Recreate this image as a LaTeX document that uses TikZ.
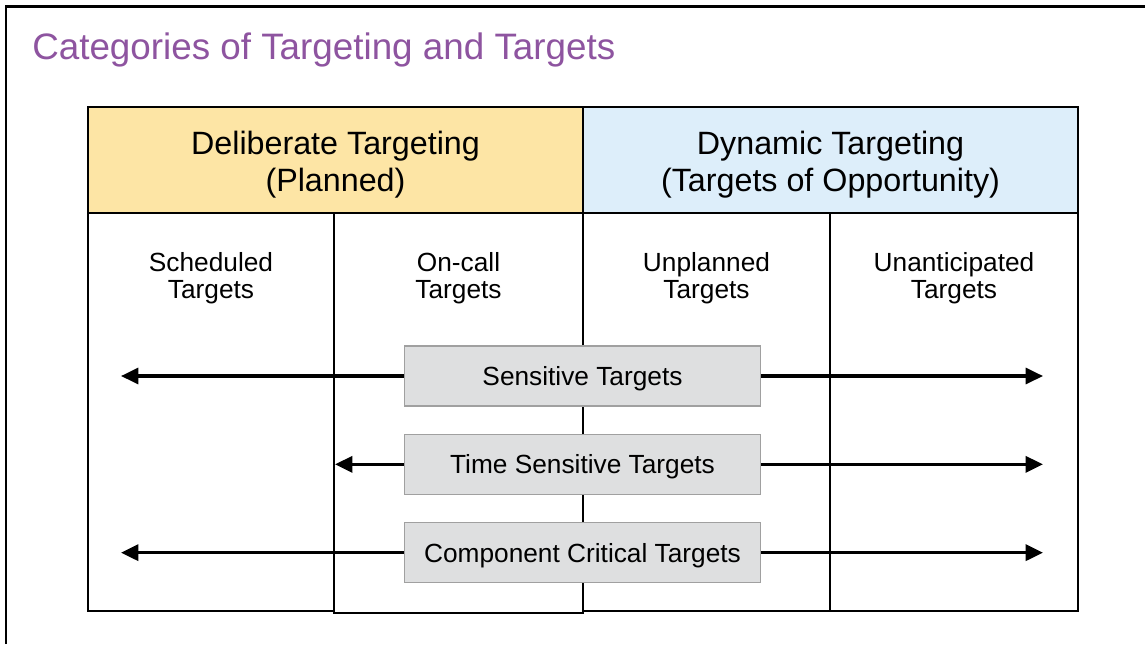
\documentclass[tikz,border=0pt]{standalone}
\usepackage{fontspec}
\setmainfont{Liberation Sans}
\usetikzlibrary{arrows.meta,positioning}
\definecolor{titlepurple}{RGB}{142,84,160}
\definecolor{planyellow}{RGB}{253,229,165}
\definecolor{dynblue}{RGB}{221,238,250}
\definecolor{boxgray}{RGB}{222,223,224}
\definecolor{boxedge}{RGB}{160,160,160}

\begin{document}
\begin{tikzpicture}[
    x=0.75pt, y=-0.75pt,
    hdr/.style={
        align=center, inner sep=0pt,
        font=\fontsize{24.2}{27.75}\selectfont
    },
    collabel/.style={
        align=center, inner sep=0pt,
        font=\fontsize{19.7}{20.25}\selectfont
    },
    colbox/.style={draw, line width=0.9pt},
    tbox/.style={
        draw=boxedge, fill=boxgray, line width=1pt,
        minimum width=267pt, minimum height=45pt,
        text height=14pt, text depth=0pt,
        font=\fontsize{19.7}{20.25}\selectfont
    },
    arr/.style={-{Triangle[length=13pt,width=12pt]}, line width=2.4pt}
]
\useasboundingbox (0,0) rectangle (1145,644);
\fill[white] (0,0) rectangle (1145,644);
\draw[line width=2.2pt] (6,644) -- (6,6.5) -- (1145,6.5);

% title
\node[anchor=base west, inner sep=0pt, text=titlepurple,
      font=\fontsize{27.6}{32}\selectfont] (title) at (32,59)
      {Categories of Targeting and Targets};

% header row
\draw[colbox, fill=planyellow] (88,107) rectangle (583,213);
\draw[colbox, fill=dynblue] (583,107) rectangle (1078,213);
\node[hdr] (delib) at (335.5,165) {Deliberate Targeting\\(Planned)};
\node[hdr] (dyn) at (830.5,165) {Dynamic Targeting\\(Targets of Opportunity)};

% columns
\draw[colbox] (88,213) rectangle (334,611);
\draw[colbox] (334,213) rectangle (583,613);
\draw[colbox] (583,213) rectangle (830,611);
\draw[colbox] (830,213) rectangle (1078,611);
\node[collabel] (sched) at (211,278.5) {Scheduled\\Targets};
\node[collabel] (oncall) at (458.5,278.5) {On-call\\Targets};
\node[collabel] (unplan) at (706.5,278.5) {Unplanned\\Targets};
\node[collabel] (unanti) at (954,278.5) {Unanticipated\\Targets};

% target boxes
\node[tbox] (sens) at (582.5,376) {Sensitive Targets};
\node[tbox, below=20.25pt of sens] (tst) {Time Sensitive Targets};
\node[tbox, below=20.25pt of tst] (crit) {Component Critical Targets};

\coordinate (farL) at (121,0);
\coordinate (nearL) at (335,0);
\coordinate (farR) at (1043,0);

\draw[arr] (sens.west) -- (sens.west -| farL);
\draw[arr] (sens.east) -- (sens.east -| farR);
\draw[arr] (tst.west) -- (tst.west -| nearL);
\draw[arr] (tst.east) -- (tst.east -| farR);
\draw[arr] (crit.west) -- (crit.west -| farL);
\draw[arr] (crit.east) -- (crit.east -| farR);
\end{tikzpicture}
\end{document}
